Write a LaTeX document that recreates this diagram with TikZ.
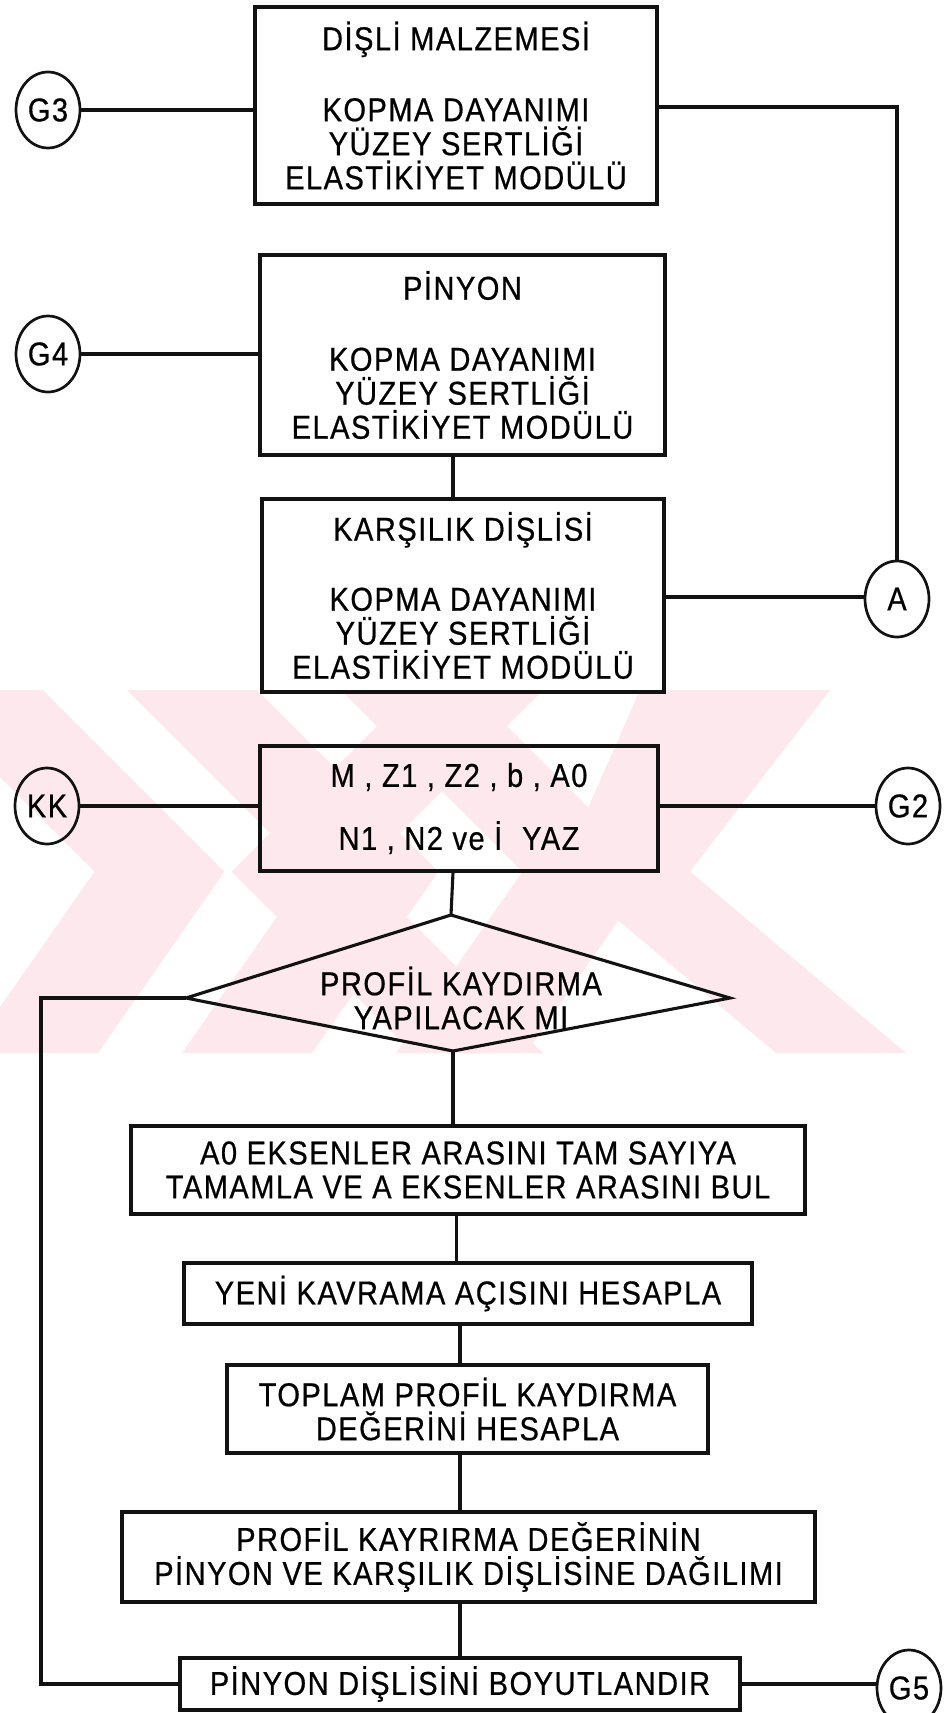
\documentclass[tikz,border=0pt]{standalone}
\usepackage{fontspec}
\setmainfont{Liberation Sans}[FakeStretch=0.88, LetterSpace=4.5, FakeBold=0.6]
\usetikzlibrary{shapes.geometric}
\definecolor{ink}{RGB}{18,18,18}
\definecolor{wmark}{RGB}{253,232,237}
\newcommand\flowfont{\fontsize{33}{34}\selectfont}
% one pale chevron band: top span, apex span (at mid height), bottom span
\newcommand\chevronband[6]{%
  \fill[band] (#1,690) -- (#2,690) -- (#4,871.5) -- (#6,1053)
              -- (#5,1053) -- (#3,871.5) -- cycle;}
\begin{document}
\begin{tikzpicture}[x=1pt,y=-1pt,
  box/.style={draw=ink, line width=3.1pt, align=center, font=\flowfont, inner sep=0pt},
  conn/.style={ellipse, draw=ink, line width=2.7pt, minimum width=64pt, minimum height=76pt,
               inner sep=0pt, font=\flowfont},
  wire/.style={draw=ink, line width=3.1pt},
  band/.style={fill=wmark, draw=none}]
\fill[white] (0,0) rectangle (947,1713);
\useasboundingbox (0,0) rectangle (947,1713);

% pale chevron watermark behind the middle of the chart
\begin{scope}
  \clip (0,690) rectangle (906,1053);
  \chevronband{-87}{43}{94.5}{224.5}{-32}{98}
  \chevronband{127}{257}{308.5}{438.5}{182}{312}
  \chevronband{341}{471}{522.5}{652.5}{396}{526}
  \chevronband{413}{543}{231.5}{361.5}{413}{543}
  \chevronband{640}{830}{560}{690}{776}{906}
\end{scope}

% material boxes
\node[box, minimum width=402pt, minimum height=197pt] (b1) at (456,105.5)
  {DİŞLİ MALZEMESİ\\[37pt]KOPMA DAYANIMI\\YÜZEY SERTLİĞİ\\ELASTİKİYET MODÜLÜ};
\node[box, minimum width=405pt, minimum height=200pt] (b2) at (462.5,355)
  {PİNYON\\[37pt]KOPMA DAYANIMI\\YÜZEY SERTLİĞİ\\ELASTİKİYET MODÜLÜ};
\node[box, minimum width=402pt, minimum height=193pt] (b3) at (463,595.5)
  {KARŞILIK DİŞLİSİ\\[36pt]KOPMA DAYANIMI\\YÜZEY SERTLİĞİ\\ELASTİKİYET MODÜLÜ};
\node[box, minimum width=398pt, minimum height=125pt] (b4) at (459,808.5)
  {M , Z1 , Z2 , b , A0\\[29pt]N1 , N2 ve İ\hspace{0.6em}YAZ};

% decision
\coordinate (dT) at (451,915);
\coordinate (dL) at (186,998);
\coordinate (dR) at (730,998);
\coordinate (dB) at (453,1051);
\draw[wire, line join=miter] (dT) -- (dR) -- (dB) -- (dL) -- cycle;
\node[align=center, font=\flowfont, inner sep=0pt] (dec) at (461,998)
  {PROFİL KAYDIRMA\\YAPILACAK MI};

% profile shift steps
\node[box, minimum width=674pt, minimum height=88pt] (b5) at (468,1170)
  {A0 EKSENLER ARASINI TAM SAYIYA\\TAMAMLA VE A EKSENLER ARASINI BUL};
\node[box, minimum width=568pt, minimum height=61pt] (b6) at (468,1293.5)
  {YENİ KAVRAMA AÇISINI HESAPLA};
\node[box, minimum width=481pt, minimum height=88pt] (b7) at (467.5,1409)
  {TOPLAM PROFİL KAYDIRMA\\DEĞERİNİ HESAPLA};
\node[box, minimum width=693pt, minimum height=90pt] (b8) at (468.5,1557)
  {PROFİL KAYRIRMA DEĞERİNİN\\PİNYON VE KARŞILIK DİŞLİSİNE DAĞILIMI};
\node[box, minimum width=560pt, minimum height=52pt] (b9) at (460,1684)
  {PİNYON DİŞLİSİNİ BOYUTLANDIR};

% connectors (off-page links)
\node[conn] (g3) at (48,110) {G3};
\node[conn] (g4) at (48,354) {G4};
\node[conn] (a)  at (897,599) {A};
\node[conn] (kk) at (47,806) {KK};
\node[conn] (g2) at (908,806) {G2};
\node[conn] (g5) at (909,1688) {G5};

% spines for the vertical links
\coordinate (s1) at (453,0);
\coordinate (s2) at (456.5,0);
\coordinate (s3) at (460,0);
\coordinate (back) at (41,998);

\draw[wire] (g3) -- (g3 -| b1.west);
\draw[wire] (b1.east |- 0,107) -- (a.north |- 0,107) -- (a.north);
\draw[wire] (g4) -- (g4 -| b2.west);
\draw[wire] (b2.south -| s1) -- (b3.north -| s1);
\draw[wire] (b3.east |- 0,597) -- (a.west |- 0,597);
\draw[wire] (kk) -- (kk -| b4.west);
\draw[wire] (b4.east |- 0,806) -- (g2);
\draw[wire] (b4.south -| s1) -- (dT);
\draw[wire] (dB) -- (b5.north -| dB);
\draw[wire] (b5.south -| s2) -- (b6.north -| s2);
\draw[wire] (b6.south -| s3) -- (b7.north -| s3);
\draw[wire] (b7.south -| s3) -- (b8.north -| s3);
\draw[wire] (b8.south -| s3) -- (b9.north -| s3);
\draw[wire] (dL) -- (back) |- (b9.west);
\draw[wire] (b9.east) -- (b9.east -| g5.west);
\end{tikzpicture}
\end{document}
